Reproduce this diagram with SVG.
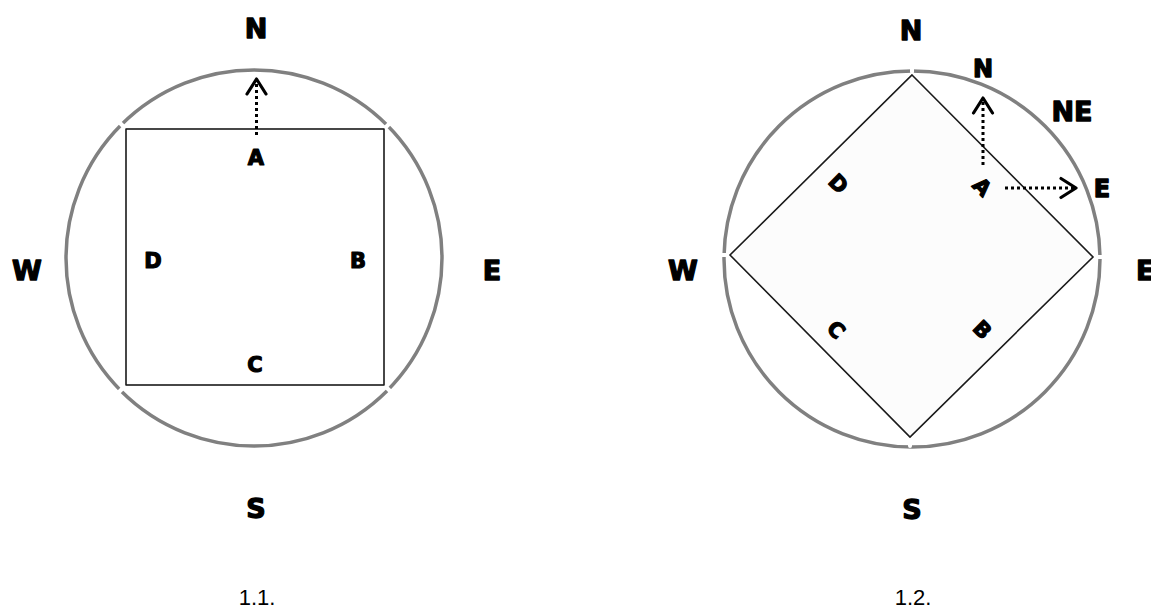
<svg xmlns="http://www.w3.org/2000/svg" width="1151" height="610" viewBox="0 0 1151 610">
<style>
.ring{fill:none;stroke:#808080;stroke-width:3.5}
.sq{fill:#ffffff;stroke:#1a1a1a;stroke-width:1.6}
.dm{fill:#fcfcfc;stroke:#1a1a1a;stroke-width:1.6}
.notch{stroke:#ffffff;stroke-width:4;stroke-linecap:round}
.dir{font-family:"DejaVu Sans","Liberation Sans",sans-serif;font-weight:bold;fill:#000;stroke:#000;stroke-width:1.3;stroke-linejoin:round;text-anchor:middle}
.big{font-size:27px}
.mid{font-size:24px}
.lab{font-family:"DejaVu Sans","Liberation Sans",sans-serif;font-weight:bold;font-size:21px;fill:#000;stroke:#000;stroke-width:1.2;stroke-linejoin:round;text-anchor:middle}
.cap{font-family:"Liberation Sans",Arial,sans-serif;font-size:22px;fill:#000;text-anchor:middle}
.dot{fill:none;stroke:#000;stroke-width:3;stroke-dasharray:3 3;marker-end:url(#chev)}
</style>
<defs>
<marker id="chev" markerUnits="userSpaceOnUse" viewBox="0 0 20 24" markerWidth="20" markerHeight="24" refX="17" refY="12" orient="auto">
<path d="M2,2.5 L17,12 L2,21.5" fill="none" stroke="#000" stroke-width="3.2" stroke-linecap="round" stroke-linejoin="round"/>
</marker>
</defs>
<rect width="1151" height="610" fill="#ffffff"/>

<g id="fig1">
<circle class="ring" cx="254" cy="258" r="188"/>
<rect class="sq" x="126" y="129" width="258" height="256"/>
<line class="notch" x1="124" y1="127" x2="118" y2="121"/>
<line class="notch" x1="386" y1="127" x2="392" y2="121"/>
<line class="notch" x1="124" y1="387" x2="118" y2="393"/>
<line class="notch" x1="386" y1="387" x2="392" y2="393"/>
<text class="dir big" x="256" y="38">N</text>
<text class="dir big" x="27" y="280">W</text>
<text class="dir big" x="492" y="280">E</text>
<text class="dir big" x="256" y="518">S</text>
<text class="lab" x="256" y="165">A</text>
<text class="lab" x="358" y="268">B</text>
<text class="lab" x="255" y="372">C</text>
<text class="lab" x="153" y="268">D</text>
<text class="cap" x="257" y="605">1.1.</text>
</g>

<g id="fig2">
<circle class="ring" cx="912" cy="259" r="188"/>
<polygon class="dm" points="912,75 1093,257 910,437 730,255"/>
<line class="notch" x1="912" y1="72" x2="912" y2="66"/>
<line class="notch" x1="1096" y1="257" x2="1102" y2="257"/>
<line class="notch" x1="910" y1="440" x2="910" y2="446"/>
<line class="notch" x1="727" y1="255" x2="721" y2="255"/>
<text class="dir big" x="911" y="40">N</text>
<text class="dir big" x="683" y="280">W</text>
<text class="dir big" x="1136" y="280" style="text-anchor:start">E</text>
<text class="dir big" x="912" y="519">S</text>
<text class="dir mid" x="983" y="77">N</text>
<text class="dir big" x="1072" y="121">NE</text>
<text class="dir mid" x="1102" y="197">E</text>
<text class="lab" x="982" y="194" transform="rotate(45 982 187)">A</text>
<text class="lab" x="982" y="337" transform="rotate(45 982 330)">B</text>
<text class="lab" x="836" y="337" transform="rotate(45 836 330)">C</text>
<text class="lab" x="838" y="191" transform="rotate(45 838 184)">D</text>
<text class="cap" x="913" y="605">1.2.</text>
</g>

<g id="connectors">
<path class="dot" d="M256.5,135 L256.5,79"/>
<path class="dot" d="M983,165 L983,98"/>
<path class="dot" d="M1005,188 L1076,188"/>
</g>
</svg>
